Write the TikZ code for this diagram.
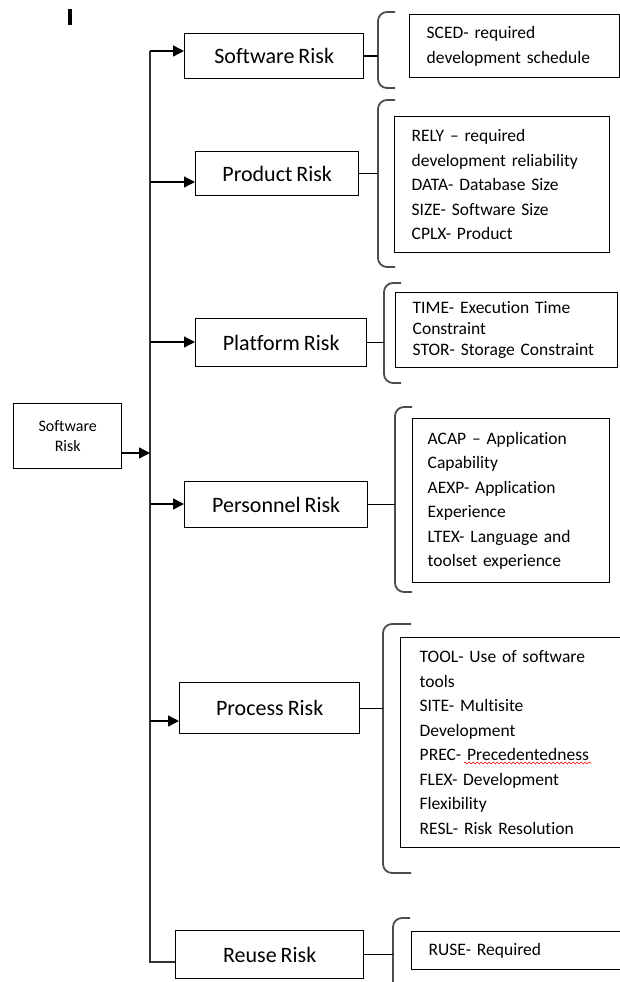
\documentclass[tikz,border=0pt]{standalone}
\usepackage{fontspec}
\setmainfont{Carlito}[Ligatures=NoCommon, WordSpace=0.8]
\usetikzlibrary{arrows.meta,decorations.pathmorphing}

\begin{document}
\begin{tikzpicture}[x=1pt, y=-1pt]
    \tikzset{risk node/.style={draw, line width=1.4pt, anchor=north west, inner sep=0pt, font=\fontsize{22}{26}\selectfont},
             factor node/.style={draw, line width=1.4pt, anchor=north west, align=left, inner xsep=17pt, inner ysep=0pt, font=\fontsize{17.5}{24.5}\selectfont},
             brace line/.style={draw=black!70, line width=1.8pt, rounded corners=9pt},
             arrow/.style={-{Triangle[length=11pt,width=11pt]}, line width=1.4pt}}
    \useasboundingbox (0,0) rectangle (619,982);

    % stray mark in the top left corner
    \fill (68,9) rectangle (72,25);

    % Root box on the left
    \node[risk node, align=center, minimum width=108pt, minimum height=65pt, font=\fontsize{16}{20}\selectfont] (root) at (13,403) {Software\\Risk};

    % Risk categories along the trunk
    \node[risk node, minimum width=179pt, minimum height=45pt] (sw) at (184,33) {Software Risk};
    \node[risk node, minimum width=163pt, minimum height=44pt] (prod) at (195,151) {Product Risk};
    \node[risk node, minimum width=171pt, minimum height=48pt] (plat) at (195,318) {Platform Risk};
    \node[risk node, minimum width=183pt, minimum height=46pt] (pers) at (184,481) {Personnel Risk};
    \node[risk node, minimum width=180pt, minimum height=51pt] (proc) at (179,682) {Process Risk};
    \node[risk node, minimum width=188pt, minimum height=48pt] (reuse) at (175,930) {Reuse Risk};

    % Trunk
    \coordinate (top) at (150,51);
    \coordinate (bottom) at (150,962);
    \coordinate (join) at (150,453);
    \draw[line width=1.6pt, black!80] (top) -- (bottom) -- (bottom -| reuse.west);
    \draw[arrow] (join -| root.east) -- (join);

    % Arrows from the trunk to each category
    \coordinate (t1) at (150,51);
    \coordinate (t2) at (150,182);
    \coordinate (t3) at (150,342);
    \coordinate (t4) at (150,504);
    \coordinate (t5) at (150,721);
    \draw[arrow] (t1) -- (t1 -| sw.west);
    \draw[arrow] (t2) -- (t2 -| prod.west);
    \draw[arrow] (t3) -- (t3 -| plat.west);
    \draw[arrow] (t4) -- (t4 -| pers.west);
    \draw[arrow] (t5) -- (t5 -| proc.west);

    % Brackets
    \coordinate (b1) at (378,51);
    \coordinate (b2) at (378,172);
    \coordinate (b3) at (384,343);
    \coordinate (b4) at (395,504);
    \coordinate (b5) at (383,708);
    \coordinate (b6) at (393,951);
    \draw[brace line] (395,12) -- (378,12) -- (378,88) -- (395,88);
    \draw[brace line] (395,100) -- (378,100) -- (378,267) -- (395,267);
    \draw[brace line] (401,283) -- (384,283) -- (384,383) -- (401,383);
    \draw[brace line] (412,407) -- (395,407) -- (395,592) -- (412,592);
    \draw[brace line] (411,624) -- (383,624) -- (383,873) -- (411,873);
    \draw[brace line] (410,918) -- (393,918) -- (393,1000);

    % Connectors from categories to brackets
    \draw[line width=1.4pt] (sw.east) -- (sw.east -| b1);
    \draw[line width=1.4pt] (prod.east) -- (prod.east -| b2);
    \draw[line width=1.4pt] (plat.east) -- (plat.east -| b3);
    \draw[line width=1.4pt] (pers.east) -- (pers.east -| b4);
    \draw[line width=1.4pt] (proc.east) -- (proc.east -| b5);
    \draw[line width=1.4pt] (reuse.east) -- (reuse.east -| b6);

    % Cost driver boxes
    \node[factor node, text width=176pt, minimum height=63pt] (f1) at (409,14) {SCED- required\\development schedule};
    \node[factor node, text width=181pt, minimum height=136pt] (f2) at (394,116) {RELY -- required\\development reliability\\DATA- Database Size\\SIZE- Software Size\\CPLX- Product};
    \node[factor node, text width=188pt, minimum height=75pt, font=\fontsize{17.5}{21}\selectfont] (f3) at (395,292) {TIME- Execution Time\\Constraint\\STOR- Storage Constraint};
    \node[factor node, inner xsep=15pt, text width=167pt, minimum height=164pt] (f4) at (412,418) {ACAP -- Application\\Capability\\AEXP- Application\\Experience\\LTEX- Language and\\toolset experience};
    \node[factor node, inner xsep=19pt, text width=200pt, minimum height=210pt] (f5) at (400,637) {TOOL- Use of software\\tools\\SITE- Multisite\\Development\\PREC- Precedentedness\\FLEX- Development\\Flexibility\\RESL- Risk Resolution};
    \node[factor node, text width=200pt, minimum height=38pt] (f6) at (411,931) {RUSE- Required};

    % spell-check squiggle
    \draw[red, line width=0.6pt, decorate, decoration={snake, amplitude=1pt, segment length=4pt}] (464,763) -- (591,763);
\end{tikzpicture}
\end{document}
